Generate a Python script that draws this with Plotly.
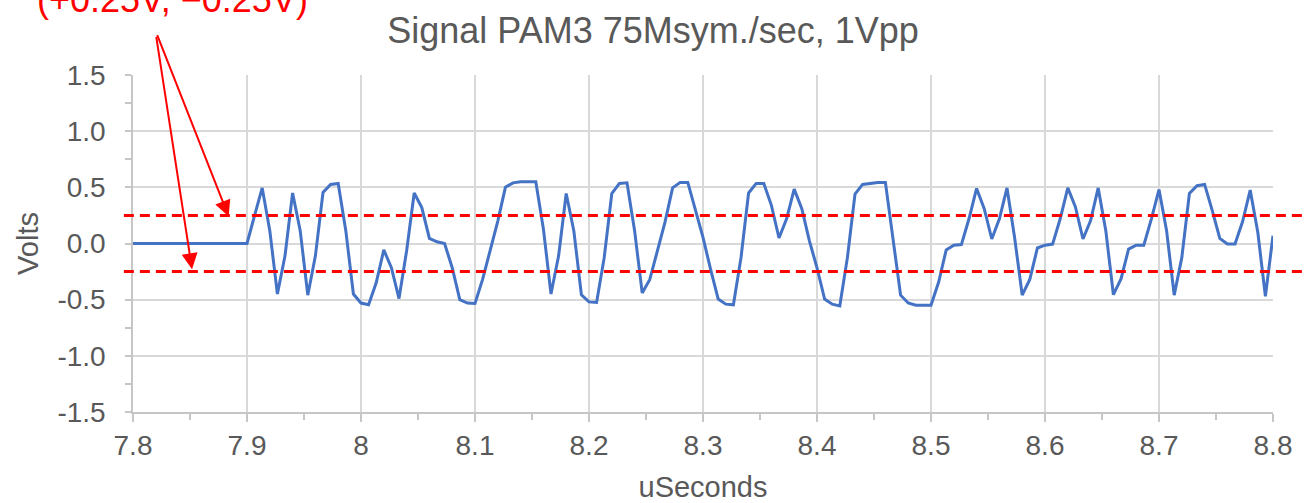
import numpy as np
import plotly.graph_objects as go

# PAM3 waveform, sampled at 150 MS/s (2 samples per 75 Msym/s symbol)
SAMPLE_RATE_MSPS = 150.0
T_START_US = 7.8

volts = [
    0.0, 0.0, 0.0, 0.0, 0.0, 0.0, 0.0, 0.0, 0.0, 0.0, 0.0, 0.0, 0.0, 0.0, 0.0,
    0.0, 0.25, 0.495, 0.114, -0.45, -0.11, 0.45, 0.114, -0.46, -0.11,
    0.454, 0.526, 0.535, 0.114, -0.45, -0.53, -0.546, -0.35, -0.057, -0.216,
    -0.49, -0.066, 0.45, 0.32, 0.045, 0.015, 0.0, -0.216, -0.50, -0.53,
    -0.534, -0.32, -0.06, 0.2, 0.5, 0.54, 0.55, 0.55, 0.55, 0.13,
    -0.45, -0.11, 0.445, 0.114, -0.456, -0.52, -0.525, -0.126, 0.445, 0.535,
    0.54, 0.114, -0.44, -0.32, -0.066, 0.19, 0.495, 0.544, 0.544, 0.31,
    0.054, -0.23, -0.495, -0.54, -0.546, -0.126, 0.45, 0.535, 0.535, 0.34,
    0.049, 0.22, 0.484, 0.31, 0.024, -0.216, -0.495, -0.54, -0.555, -0.126,
    0.44, 0.526, 0.535, 0.544, 0.544, 0.04, -0.46, -0.53, -0.55, -0.55,
    -0.55, -0.345, -0.057, -0.015, -0.01, 0.22, 0.49, 0.31, 0.04, 0.22,
    0.495, 0.054, -0.46, -0.32, -0.04, -0.015, -0.005, 0.22, 0.495, 0.325,
    0.04, 0.205, 0.495, 0.114, -0.456, -0.315, -0.05, -0.015, -0.015, 0.22,
    0.48, 0.114, -0.46, -0.126, 0.445, 0.515, 0.526, 0.295, 0.045, -0.005,
    -0.005, 0.195, 0.475, 0.1, -0.47, 0.07,
]
t_us = T_START_US + np.arange(len(volts)) / SAMPLE_RATE_MSPS

# Decision thresholds
thresholds = [0.25, -0.25]
threshold_label = "(+0.25V, \u22120.25V)"

# Axis ticks
x_ticks = [7.8, 7.9, 8.0, 8.1, 8.2, 8.3, 8.4, 8.5, 8.6, 8.7, 8.8]
x_tick_text = ["7.8", "7.9", "8", "8.1", "8.2", "8.3", "8.4", "8.5", "8.6", "8.7", "8.8"]
y_ticks = [1.5, 1.0, 0.5, 0.0, -0.5, -1.0, -1.5]
y_tick_text = ["1.5", "1.0", "0.5", "0.0", "-0.5", "-1.0", "-1.5"]

FONT = "Liberation Sans, Arial, sans-serif"
GREY = "#595959"
GRID = "#d9d9d9"
AXIS = "#c6c6c6"
RED = "#ff0000"

fig = go.Figure()
fig.add_trace(go.Scatter(
    x=t_us, y=volts, mode="lines",
    line=dict(color="#4472c4", width=3),
    showlegend=False, hoverinfo="x+y",
))

for th in thresholds:
    fig.add_shape(type="line", xref="paper", yref="y",
                  x0=-0.008, x1=1.03, y0=th, y1=th,
                  line=dict(color=RED, width=3, dash="10px,6px"))

# Label with two arrows pointing at the threshold lines
fig.add_annotation(xref="paper", yref="paper", x=0.035, y=1.225,
                   text=threshold_label, showarrow=False,
                   font=dict(family=FONT, size=36, color=RED),
                   xanchor="center", yanchor="middle")
fig.add_annotation(x=7.8839, y=0.24, xref="x", yref="y",
                   ax=-72, ay=-183, axref="pixel", ayref="pixel",
                   text="", showarrow=True, arrowhead=2, arrowsize=1.6,
                   arrowwidth=2, arrowcolor=RED)
fig.add_annotation(x=7.8518, y=-0.23, xref="x", yref="y",
                   ax=-36, ay=-234, axref="pixel", ayref="pixel",
                   text="", showarrow=True, arrowhead=2, arrowsize=1.6,
                   arrowwidth=2, arrowcolor=RED)

fig.update_layout(
    width=1306, height=503,
    margin=dict(l=133, r=33, t=75, b=91, autoexpand=False),
    paper_bgcolor="white", plot_bgcolor="white",
    font=dict(family=FONT, color=GREY),
    title=dict(text="Signal PAM3 75Msym./sec, 1Vpp",
               font=dict(family=FONT, size=36, color=GREY),
               x=0.5, xref="container", xanchor="center",
               y=1 - 30 / 503, yref="container", yanchor="middle"),
    xaxis=dict(
        range=[7.8, 8.8], tickvals=x_ticks, ticktext=x_tick_text,
        showgrid=True, gridcolor=GRID, gridwidth=1.5,
        showline=True, linecolor=AXIS, linewidth=1.5,
        ticks="outside", ticklen=8, tickcolor=AXIS, tickwidth=1.5,
        minor=dict(dtick=0.05, tick0=7.8, ticks="outside", ticklen=6,
                   tickcolor=AXIS, tickwidth=1.5, showgrid=False),
        tickfont=dict(family=FONT, size=28, color=GREY),
        ticklabelstandoff=0,
        zeroline=False,
        title=dict(text="uSeconds", font=dict(family=FONT, size=29, color=GREY),
                   standoff=16),
    ),
    yaxis=dict(
        range=[-1.5, 1.5], tickvals=y_ticks, ticktext=y_tick_text,
        showgrid=True, gridcolor=GRID, gridwidth=1.5,
        showline=True, linecolor=AXIS, linewidth=1.5,
        ticks="outside", ticklen=6, tickcolor=AXIS, tickwidth=1.5,
        minor=dict(dtick=0.25, tick0=-1.5, ticks="outside", ticklen=6,
                   tickcolor=AXIS, tickwidth=1.5, showgrid=False),
        tickfont=dict(family=FONT, size=28, color=GREY),
        ticklabelstandoff=14,
        zeroline=False,
        title=dict(text="Volts", font=dict(family=FONT, size=29, color=GREY),
                   standoff=10),
    ),
)

fig.write_html("out.html")
